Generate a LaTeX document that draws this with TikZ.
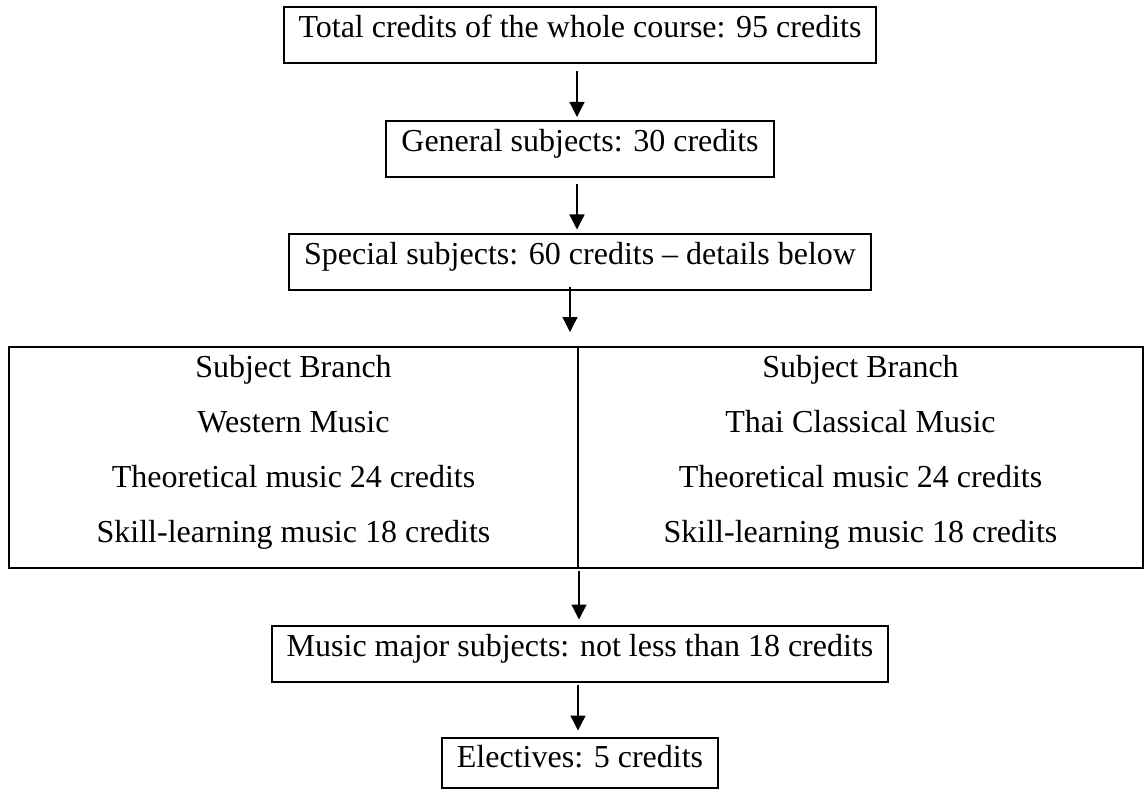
\documentclass[tikz,border=0pt]{standalone}
\usepackage{fontspec}
\setmainfont{Liberation Serif}
\usetikzlibrary{arrows.meta}

\begin{document}
\begin{tikzpicture}[x=0.5pt,y=-0.5pt,
    box/.style={draw=black,line width=1pt,inner xsep=7.5pt,inner ysep=0pt,text height=15.5pt,text depth=12.5pt},
    col/.style={draw=black,line width=1pt,inner sep=0pt,minimum height=110.5pt},
    txt/.style={anchor=base,inner sep=0pt},
    arr/.style={draw=black,line width=0.65pt,-{Triangle[width=7.5pt,length=7.5pt]}}]
            \tikzstyle{every node}+=[font=\fontsize{16pt}{19pt}\selectfont]
            \useasboundingbox (0,0) rectangle (1144,791);
            \node [box] (total) at (580,35) {Total credits of the whole course: 95 credits};
            \node [box] (general) at (580,149) {General subjects: 30 credits};
            \node [box] (special) at (580,261.5) {Special subjects: 60 credits -- details below};
            \node [col,minimum width=284.5pt] (west) at (293.5,457.5) {};
            \node [col,minimum width=282.5pt] (thai) at (860.5,457.5) {};
            \node [txt] (westsub) at (293.5,377) {Subject Branch};
            \node [txt] (westname) at (293.5,432) {Western Music};
            \node [txt] (westtheo) at (293.5,487) {Theoretical music 24 credits};
            \node [txt] (westskill) at (293.5,542) {Skill-learning music 18 credits};
            \node [txt] (thaisub) at (860.5,377) {Subject Branch};
            \node [txt] (thainame) at (860.5,432) {Thai Classical Music};
            \node [txt] (thaitheo) at (860.5,487) {Theoretical music 24 credits};
            \node [txt] (thaiskill) at (860.5,542) {Skill-learning music 18 credits};
            \node [box] (major) at (580,653.5) {Music major subjects: not less than 18 credits};
            \node [box,text height=13pt,text depth=8pt,inner ysep=2pt] (elective) at (580,762.5) {Electives: 5 credits};
            \draw [arr,shorten <=3.5pt,shorten >=1.5pt] ([xshift=-1.5pt]total.south) -- ([xshift=-1.5pt]total.south |- general.north);
            \draw [arr,shorten <=3pt,shorten >=1.5pt] ([xshift=-1.5pt]general.south) -- ([xshift=-1.5pt]general.south |- special.north);
            \draw [arr,shorten <=-2pt,shorten >=7pt] ([xshift=-4.5pt]west.north east |- special.south) -- ([xshift=-4.5pt]west.north east);
            \draw [arr,shorten <=1pt,shorten >=2.5pt] (west.south east) -- (west.south east |- major.north);
            \draw [arr,shorten <=1pt,shorten >=3pt] ([xshift=-1pt]major.south) -- ([xshift=-1pt]major.south |- elective.north);
        \end{tikzpicture}
\end{document}
